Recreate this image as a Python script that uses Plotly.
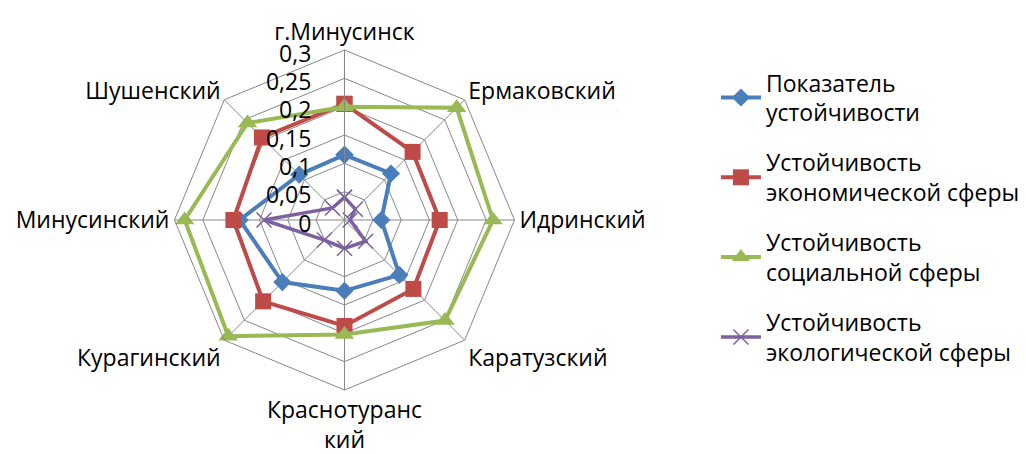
import plotly.graph_objects as go

# районы по часовой стрелке, начиная сверху
categories = ["г.Минусинск", "Ермаковский", "Идринский", "Каратузский",
              "Краснотуранс<br>кий", "Курагинский", "Минусинский", "Шушенский"]

overall = [0.115, 0.116, 0.065, 0.137, 0.125, 0.155, 0.185, 0.113]
economic = [0.205, 0.170, 0.168, 0.172, 0.187, 0.203, 0.196, 0.206]
social = [0.200, 0.280, 0.262, 0.251, 0.202, 0.290, 0.282, 0.242]
ecological = [0.040, 0.027, 0.010, 0.053, 0.050, 0.050, 0.142, 0.030]

tick_vals = [0, 0.05, 0.1, 0.15, 0.2, 0.25, 0.3]
tick_text = ["0", "0,05", "0,1", "0,15", "0,2", "0,25", "0,3"]

series = [
    ("Показатель<br>устойчивости", overall, "#4A7EBB", "diamond", 14),
    ("Устойчивость<br>экономической сферы", economic, "#BE4B48", "square", 16),
    ("Устойчивость<br>социальной сферы", social, "#98B954", "triangle-up", 17),
    ("Устойчивость<br>экологической сферы", ecological, "#7D60A0", "x-thin-open", 15),
]

FONT = "Open Sans"
FS = 23

fig = go.Figure()
for name, vals, color, symbol, size in series:
    # замыкаем контур
    r = vals + vals[:1]
    theta = categories + categories[:1]
    if symbol == "x-thin-open":
        marker = dict(symbol=symbol, size=size, color=color,
                      line=dict(color=color, width=1.5))
        lw = 3.5
    else:
        marker = dict(symbol=symbol, size=size, color=color)
        lw = 4
    fig.add_trace(go.Scatterpolar(
        r=r, theta=theta, name=name, legendgroup=name, mode="lines+markers",
        line=dict(color=color, width=lw), marker=marker,
    ))

fig.update_layout(
    width=1026, height=454,
    margin=dict(l=0, r=0, t=0, b=0),
    paper_bgcolor="white",
    font=dict(family=FONT, size=FS, color="black"),
    polar=dict(
        domain=dict(x=[0.1608, 0.4951], y=[0.1586, 0.9075]),
        bgcolor="white",
        gridshape="linear",
        radialaxis=dict(
            range=[0, 0.3], tickvals=tick_vals,
            ticktext=[t + "\u00a0\u00a0" for t in tick_text],
            angle=90, side="counterclockwise", showline=True,
            linecolor="#878787", gridcolor="#878787", gridwidth=1,
            ticks="", tickfont=dict(size=FS, family=FONT),
        ),
        angularaxis=dict(
            rotation=90, direction="clockwise",
            linecolor="#878787", gridcolor="#878787", gridwidth=1,
            ticks="", tickfont=dict(size=FS, family=FONT),
        ),
    ),
    legend=dict(
        x=0.69, y=0.883, xanchor="left", yanchor="top",
        font=dict(size=FS, family=FONT),
        tracegroupgap=17, itemwidth=40,
    ),
)

fig.write_html("out.html")
